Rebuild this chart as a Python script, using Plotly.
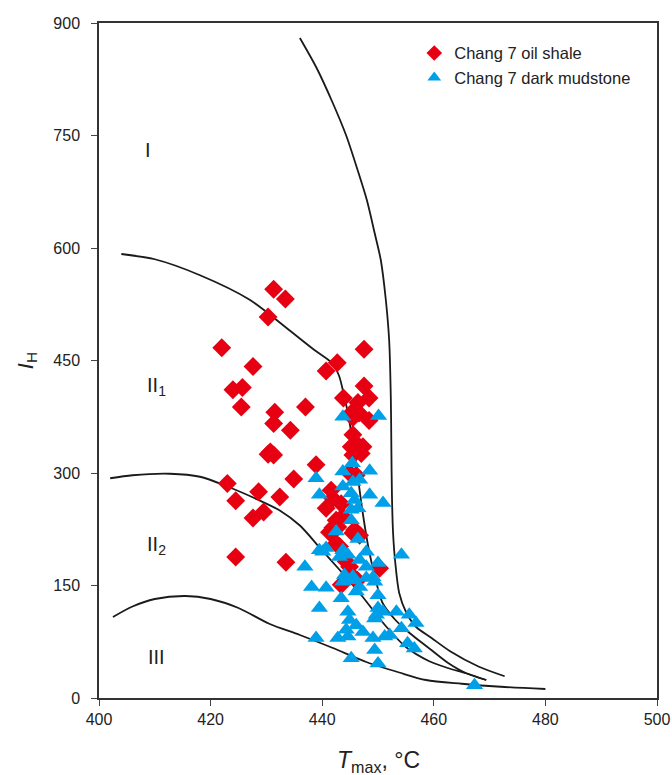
import plotly.graph_objects as go

# ---- data ----
shale_tmax = [422.0, 431.3, 433.4, 430.3, 427.6, 442.7, 440.7, 447.5, 424.0, 425.7,
              425.5, 431.5, 431.3, 437.0, 434.3, 443.8, 447.5, 448.4, 446.4, 445.5,
              446.6, 448.4, 445.5, 445.5, 445.2, 446.4, 447.3, 447.0, 445.5, 430.7,
              431.3, 430.3, 438.9, 434.9, 423.0, 428.6, 432.4, 424.5, 429.5, 427.6,
              424.5, 433.5, 444.9, 446.1, 441.6, 441.9, 440.7, 443.4, 443.7, 442.5,
              441.9, 442.8, 441.3, 445.8, 446.7, 445.5, 442.5, 443.1, 444.3, 445.5,
              450.3, 443.4, 446.3, 444.9]
shale_ih = [467, 545, 532, 508, 442, 447, 436, 465, 411, 414,
            388, 381, 366, 388, 357, 400, 416, 400, 394, 382,
            380, 370, 374, 351, 335, 337, 335, 326, 324, 328,
            324, 325, 311, 292, 286, 275, 268, 263, 248, 240,
            188, 181, 300, 297, 277, 266, 253, 259, 242, 237,
            227, 228, 221, 224, 217, 220, 206, 202, 182, 162,
            173, 151, 157, 175]

mud_tmax = [443.7, 450.1, 445.4, 443.7, 448.5, 438.9, 445.5, 446.7, 443.7, 439.5,
            448.5, 450.9, 445.2, 445.8, 445.2, 446.4, 445.2, 442.5, 446.4, 439.5,
            440.7, 443.7, 444.6, 447.9, 454.2, 436.9, 443.1, 446.7, 450.0, 447.9,
            444.0, 445.5, 449.1, 438.1, 440.7, 443.7, 445.5, 446.7, 447.9, 449.4,
            446.1, 443.4, 450.0, 439.5, 444.6, 450.0, 444.9, 446.1, 449.7, 450.9,
            453.3, 449.4, 455.6, 456.8, 454.2, 444.3, 447.3, 438.9, 442.8, 444.6,
            449.1, 451.2, 452.1, 455.3, 456.5, 449.4, 445.2, 450.0, 467.3, 440.1]
mud_ih = [375, 376, 313, 302, 303, 293, 288, 291, 282, 271,
          271, 260, 273, 264, 251, 253, 237, 222, 212, 197,
          200, 197, 191, 195, 191, 175, 188, 184, 180, 175,
          164, 162, 161, 148, 147, 155, 157, 148, 160, 155,
          142, 133, 137, 120, 115, 120, 104, 97, 111, 115,
          115, 106, 111, 100, 93, 91, 88, 80, 80, 82,
          80, 82, 84, 73, 66, 64, 53, 46, 17, 195]

# boundary curves
curveA_t = [436, 439, 441.8, 444.3, 446.3, 448.0, 449.4, 450.5, 451.4, 452.0, 452.3,
            452.4, 452.5, 452.7, 453.1, 453.8, 455.0, 456.8, 459.6, 463, 468, 472.7]
curveA_ih = [880, 840, 795, 750, 705, 664, 620, 584, 531, 477, 400,
             330, 270, 220, 180, 140, 115, 95, 80, 62, 42, 29]

curveB_t = [404, 410, 418, 427, 434, 438.6, 441.7, 443.0, 443.8, 444.6, 445.5,
            446.3, 447.2, 448.3, 449.5, 450.8, 453, 455.6, 459.2, 462.5, 465.8, 469.4]
curveB_ih = [592, 585, 564, 531, 491, 464, 447, 430, 407, 380, 340,
             300, 250, 200, 160, 127, 105, 87, 66, 47, 33, 24]

curveC_t = [402, 406, 412.7, 418.1, 423, 428.6, 432.4, 436, 439.5, 443.1, 446.7,
            451.5, 455, 459.2, 462.5, 465.8, 469.4]
curveC_ih = [293, 297, 299, 295, 282, 264, 250, 230, 201, 171, 140,
             95, 68, 49, 40, 33, 24]

curveD_t = [402.5, 406, 410, 415.5, 420, 425, 430.5, 436, 441.8, 447.9, 453.8,
            458.6, 465, 472, 480]
curveD_ih = [108, 122, 132, 136, 132, 120, 99, 84, 67, 48, 34,
             24, 19, 15, 12]

zone_labels = ["I", "II<sub>1</sub>", "II<sub>2</sub>", "III"]
zone_t = [408.8, 410.3, 410.3, 410.3]
zone_ih = [731, 416, 203, 55]

x_ticks = [400, 420, 440, 460, 480, 500]
y_ticks = [0, 150, 300, 450, 600, 750, 900]

FONT = "Arial, Liberation Sans, sans-serif"
RED = "#E60012"
BLUE = "#00A0E9"

fig = go.Figure()

for t, ih in [(curveA_t, curveA_ih), (curveB_t, curveB_ih),
              (curveC_t, curveC_ih), (curveD_t, curveD_ih)]:
    fig.add_trace(go.Scatter(x=t, y=ih, mode="lines",
                             line=dict(color="#1a1a1a", width=1.8, shape="spline", smoothing=0.8),
                             showlegend=False, hoverinfo="skip"))

fig.add_trace(go.Scatter(x=shale_tmax, y=shale_ih, mode="markers", name="Chang 7 oil shale",
                         marker=dict(symbol="diamond", size=14.5, color=RED, line=dict(width=0))))
fig.add_trace(go.Scatter(x=mud_tmax, y=mud_ih, mode="markers", name="Chang 7 dark mudstone",
                         marker=dict(symbol="triangle-up", size=15, color=BLUE, line=dict(width=0))))

for lab, t, ih in zip(zone_labels, zone_t, zone_ih):
    fig.add_annotation(x=t, y=ih, text=lab, showarrow=False,
                       font=dict(family=FONT, size=20, color="#222222"))

# x-axis title as annotation (keeps margins fixed)
fig.add_annotation(xref="paper", yref="paper", x=0.5, y=0, yshift=-63,
                   xanchor="center", yanchor="middle", showarrow=False,
                   text="<i>T</i><sub>max</sub>, °C",
                   font=dict(family=FONT, size=23, color="#222222"))

fig.update_layout(
    width=672, height=775,
    margin=dict(l=99, r=15, t=23, b=77),
    paper_bgcolor="white", plot_bgcolor="white",
    font=dict(family=FONT, size=16, color="#222222"),
    legend=dict(x=0.565, y=0.981, xanchor="left", yanchor="top",
                bgcolor="rgba(0,0,0,0)", font=dict(size=16.5, color="#222222"),
                itemsizing="constant", tracegroupgap=0),
    showlegend=True,
)
fig.update_xaxes(range=[400, 500], tickvals=x_ticks, ticks="outside", ticklen=6,
                 showline=True, linecolor="#333333", linewidth=1.5, mirror=True,
                 showgrid=False, zeroline=False, tickfont=dict(size=16),
                 automargin=False)
fig.update_yaxes(range=[0, 900], tickvals=y_ticks, ticks="outside", ticklen=6,
                 ticklabelstandoff=8, automargin=False,
                 showline=True, linecolor="#333333", linewidth=1.5, mirror=True,
                 showgrid=False, zeroline=False, tickfont=dict(size=16),
                 title=dict(text="<i>I</i><sub>H</sub>", font=dict(size=22), standoff=14))

fig.write_html("out.html")
